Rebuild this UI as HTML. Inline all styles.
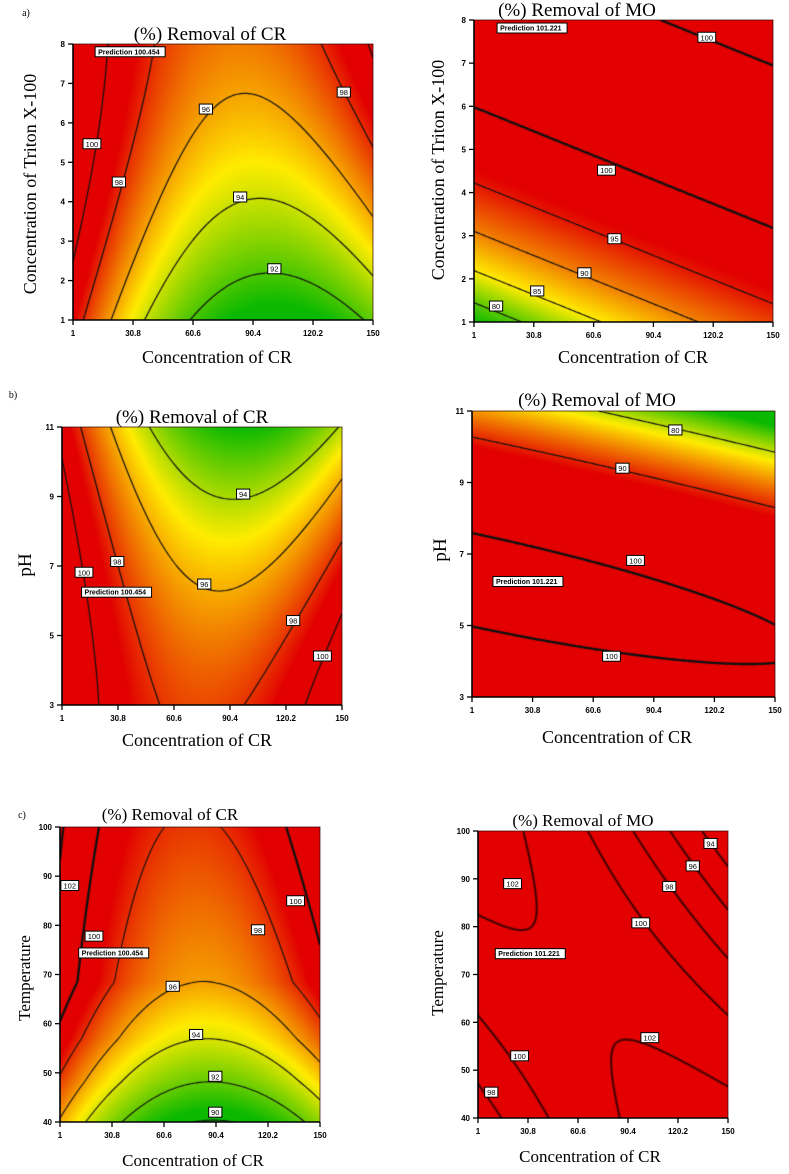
<!DOCTYPE html>
<html><head><meta charset="utf-8">
<style>
html,body{margin:0;padding:0;background:#fff;}
body{width:789px;height:1174px;position:relative;overflow:hidden;font-family:"Liberation Serif",serif;}
canvas{position:absolute;}
#overlay{position:absolute;left:0;top:0;}
</style></head>
<body>
<svg id="overlay" width="789" height="1174"></svg>
<script>
// ---------- shared axis data ----------
const xTickVals = [1, 30.8, 60.6, 90.4, 120.2, 150];
const xTickLabels = ['1', '30.8', '60.6', '90.4', '120.2', '150'];
const tritonTicks = [1, 2, 3, 4, 5, 6, 7, 8];
const pHTicks = [3, 5, 7, 9, 11];
const tempTicks = [40, 50, 60, 70, 80, 90, 100];

// ---------- panel a-left : CR vs Triton ----------
const crTritonCoef = [90.49, 18, 0.68, -0.13, 9.42, -3.3];
const crTritonLevels = [92, 94, 96, 98, 100];
const crTritonLabelX = [10.4, 23.8, 67, 84, 101, 135.5];
const crTritonLabelY = [5.47, 4.5, 6.35, 4.12, 2.3, 6.78];
const crTritonLabelText = ['100', '98', '96', '94', '92', '98'];

// ---------- panel a-right : MO vs Triton ----------
const moTritonS = [0, 0.064, 0.17, 0.30, 0.46, 0.71, 0.98, 1.25, 1.4];
const moTritonG = [77.5, 80, 85, 90, 95, 100, 101.2, 100, 99];
const moTritonLevels = [80, 85, 90, 95, 100];
const moTritonLabelX = [117, 67, 71, 56, 32.5, 12];
const moTritonLabelY = [7.6, 4.52, 2.93, 2.14, 1.72, 1.37];
const moTritonLabelText = ['100', '100', '95', '90', '85', '80'];

// ---------- panel b-left : CR vs pH ----------
const crPHCoef = [97.6, 17.7, 0.5, 0.15, -2.71, -2.91];
const crPHLevels = [94, 96, 98, 100];
const crPHLabelX = [97.4, 76.7, 30.4, 12.7, 124, 139.6];
const crPHLabelY = [9.07, 6.48, 7.13, 6.82, 5.43, 4.41];
const crPHLabelText = ['94', '96', '98', '100', '98', '100'];

// ---------- panel b-right : MO vs pH ----------
const moPHCoef = [101.2, 1.0, 0.26, 45, 0.41, 0.036];
const moPHLevels = [70, 80, 90, 100];
const moPHLabelX = [101, 75, 81.4, 69.6];
const moPHLabelY = [10.47, 9.4, 6.82, 4.14];
const moPHLabelText = ['80', '90', '100', '100'];

// ---------- panel c-left : CR vs Temperature ----------
const crTempVK = [0, 0.136, 0.282, 0.475, 1];
const crTempCV = [89.9, 92, 94, 96, 97.8];
const crTempCoef = [17, 0.59, -0.08];
const crTempLevels = [90, 92, 94, 96, 98, 100, 102];
const crTempLabelX = [6.6, 20.5, 65.6, 79, 90, 90, 114.5, 136];
const crTempLabelY = [88.1, 77.8, 67.6, 57.8, 49.3, 42, 79.1, 85];
const crTempLabelText = ['102', '100', '96', '94', '92', '90', '98', '100'];

// ---------- panel c-right : MO vs Temperature ----------
const moTempCoef = [96.8, 13.45, 10.6, -7.55, -4.6, -16.5];
const moTempLevels = [94, 96, 98, 100, 102];
const moTempLabelX = [139.6, 129, 115, 98, 21.6, 103.4, 25.8, 8.9];
const moTempLabelY = [97.4, 92.7, 88.4, 80.8, 89, 56.8, 53, 45.4];
const moTempLabelText = ['94', '96', '98', '100', '102', '102', '100', '98'];

const NS = 'http://www.w3.org/2000/svg';
const svg = document.getElementById('overlay');
function mk(tag, attrs, parent) {
  const e = document.createElementNS(NS, tag);
  for (const k in attrs) e.setAttribute(k, attrs[k]);
  (parent || svg).appendChild(e);
  return e;
}
function pwl(xs, ys, x) {
  if (x <= xs[0]) return ys[0] + (x - xs[0]) * (ys[1] - ys[0]) / (xs[1] - xs[0]);
  for (let i = 1; i < xs.length; i++) {
    if (x <= xs[i]) return ys[i - 1] + (x - xs[i - 1]) * (ys[i] - ys[i - 1]) / (xs[i] - xs[i - 1]);
  }
  const n = xs.length;
  return ys[n - 1];
}
function cmap(val, lo, mid, hi) {
  const G = [10, 185, 0], Y = [255, 236, 0], R = [226, 0, 0];
  let a, b, t;
  if (val <= lo) return G;
  if (val >= hi) return R;
  if (val < mid) { a = G; b = Y; t = (val - lo) / (mid - lo); }
  else { a = Y; b = R; t = (val - mid) / (hi - mid); }
  return [a[0] + (b[0] - a[0]) * t, a[1] + (b[1] - a[1]) * t, a[2] + (b[2] - a[2]) * t];
}

const models = {
  crTriton: (u, v) => { const c = crTritonCoef; const uc = c[2] + c[3] * v; return c[0] + c[1] * (u - uc) * (u - uc) + c[4] * v + c[5] * v * v; },
  moTriton: (u, v) => pwl(moTritonS, moTritonG, v + 0.4 * u),
  crPH: (u, v) => { const c = crPHCoef; const uc = c[2] + c[3] * v; return c[0] + c[1] * (u - uc) * (u - uc) + c[4] * v + c[5] * v * v; },
  moPH: (u, v) => { const c = moPHCoef; const s = v + c[2] * u; const s0 = c[4] + c[5] * u; return (c[0] - c[1] * u * u) - c[3] * (s - s0) * (s - s0); },
  crTemp: (u, v) => { const c = crTempCoef; const uc = c[1] + c[2] * v; return pwl(crTempVK, crTempCV, v) + c[0] * (u - uc) * (u - uc); },
  moTemp: (u, v) => { const c = moTempCoef; return c[0] + c[1] * u + c[2] * v + c[3] * u * u + c[4] * v * v + c[5] * u * v; }
};

const panels = [
  { id: 'cr-triton', model: 'crTriton', x: 73, y: 44, w: 300, h: 276, ymin: 1, ymax: 8, yTicks: tritonTicks,
    levels: crTritonLevels, lx: crTritonLabelX, ly: crTritonLabelY, lt: crTritonLabelText, cm: [91, 94.8, 98.7],
    lineColor: '#111', lineW: 1.2, thick: [],
    title: '(%) Removal of CR', tx: 210, ty: 40, tfs: 19, xl: 'Concentration of CR', xlx: 217, xly: 363, xfs: 18,
    yl: 'Concentration of Triton X-100', ylx: 36, yly: 184, yfs: 18, pred: 'Prediction  100.454', px: 12, py: 7.93, letter: 'a)', lxp: 26, lyp: 16 },
  { id: 'mo-triton', model: 'moTriton', x: 474, y: 20, w: 299, h: 302, ymin: 1, ymax: 8, yTicks: tritonTicks,
    levels: moTritonLevels, lx: moTritonLabelX, ly: moTritonLabelY, lt: moTritonLabelText, cm: [77.5, 85, 96],
    lineColor: '#111', lineW: 1.2, thick: [100],
    title: '(%) Removal of MO', tx: 577, ty: 16, tfs: 19, xl: 'Concentration of CR', xlx: 633, xly: 363, xfs: 18,
    yl: 'Concentration of Triton X-100', ylx: 444, yly: 170, yfs: 18, pred: 'Prediction  101.221', px: 12.5, py: 7.93 },
  { id: 'cr-ph', model: 'crPH', x: 62, y: 427, w: 280, h: 278, ymin: 3, ymax: 11, yTicks: pHTicks,
    levels: crPHLevels, lx: crPHLabelX, ly: crPHLabelY, lt: crPHLabelText, cm: [92, 95, 98.8],
    lineColor: '#111', lineW: 1.2, thick: [],
    title: '(%) Removal of CR', tx: 192, ty: 423, tfs: 19, xl: 'Concentration of CR', xlx: 197, xly: 746, xfs: 18,
    yl: 'pH', ylx: 31, yly: 565, yfs: 19, pred: 'Prediction  100.454', px: 11.4, py: 6.39, letter: 'b)', lxp: 13, lyp: 398 },
  { id: 'mo-ph', model: 'moPH', x: 472, y: 411, w: 303, h: 286, ymin: 3, ymax: 11, yTicks: pHTicks,
    levels: moPHLevels, lx: moPHLabelX, ly: moPHLabelY, lt: moPHLabelText, cm: [74, 82, 91.5],
    lineColor: '#111', lineW: 1.2, thick: [100],
    title: '(%) Removal of MO', tx: 597, ty: 406, tfs: 19, xl: 'Concentration of CR', xlx: 617, xly: 743, xfs: 18,
    yl: 'pH', ylx: 446, yly: 550, yfs: 19, pred: 'Prediction  101.221', px: 11.3, py: 6.37 },
  { id: 'cr-temp', model: 'crTemp', x: 60, y: 827, w: 260, h: 295, ymin: 40, ymax: 100, yTicks: tempTicks,
    levels: crTempLevels, lx: crTempLabelX, ly: crTempLabelY, lt: crTempLabelText, cm: [90.5, 94.6, 98.8],
    lineColor: '#111', lineW: 1.1, thick: [100, 102],
    title: '(%) Removal of CR', tx: 170, ty: 820, tfs: 17, xl: 'Concentration of CR', xlx: 193, xly: 1166, xfs: 17,
    yl: 'Temperature', ylx: 30, yly: 978, yfs: 17, pred: 'Prediction  100.454', px: 11.7, py: 75.4, letter: 'c)', lxp: 22, lyp: 818 },
  { id: 'mo-temp', model: 'moTemp', x: 478, y: 831, w: 250, h: 287, ymin: 40, ymax: 100, yTicks: tempTicks,
    levels: moTempLevels, lx: moTempLabelX, ly: moTempLabelY, lt: moTempLabelText, cm: [80, 86, 92],
    lineColor: 'rgba(50,0,0,0.85)', lineW: 2.2, thick: [],
    title: '(%) Removal of MO', tx: 583, ty: 826, tfs: 17, xl: 'Concentration of CR', xlx: 590, xly: 1162, xfs: 17,
    yl: 'Temperature', ylx: 443, yly: 973, yfs: 17, pred: 'Prediction  101.221', px: 11.3, py: 75.4 }
];

function drawPanel(p) {
  const f = models[p.model];
  const cv = document.createElement('canvas');
  cv.width = p.w; cv.height = p.h;
  cv.style.left = p.x + 'px'; cv.style.top = p.y + 'px';
  
  
  document.body.insertBefore(cv, svg);
  const ctx = cv.getContext('2d');
  const img = ctx.createImageData(p.w, p.h);
  for (let py = 0; py < p.h; py++) {
    for (let px = 0; px < p.w; px++) {
      const u = (px + 0.5) / p.w, v = 1 - (py + 0.5) / p.h;
      const c = cmap(f(u, v), p.cm[0], p.cm[1], p.cm[2]);
      const i = (py * p.w + px) * 4;
      img.data[i] = c[0]; img.data[i + 1] = c[1]; img.data[i + 2] = c[2]; img.data[i + 3] = 255;
    }
  }
  ctx.putImageData(img, 0, 0);
  // contours via marching squares
  const g = 2, nx = Math.ceil(p.w / g), ny = Math.ceil(p.h / g);
  const grid = [];
  for (let j = 0; j <= ny; j++) {
    const row = [];
    for (let i = 0; i <= nx; i++) {
      const X = Math.min(i * g, p.w), Y = Math.min(j * g, p.h);
      row.push(f(X / p.w, 1 - Y / p.h));
    }
    grid.push(row);
  }
  p.levels.forEach(L => {
    ctx.beginPath();
    ctx.strokeStyle = p.lineColor;
    ctx.lineWidth = p.thick.indexOf(L) >= 0 ? p.lineW + 1.2 : p.lineW;
    for (let j = 0; j < ny; j++) {
      for (let i = 0; i < nx; i++) {
        const x0 = i * g, y0 = j * g, x1 = Math.min(x0 + g, p.w), y1 = Math.min(y0 + g, p.h);
        const cs = [[x0, y0, grid[j][i]], [x1, y0, grid[j][i + 1]], [x1, y1, grid[j + 1][i + 1]], [x0, y1, grid[j + 1][i]]];
        const pts = [];
        for (let e = 0; e < 4; e++) {
          const a = cs[e], b = cs[(e + 1) % 4];
          if ((a[2] < L) !== (b[2] < L)) {
            const t = (L - a[2]) / (b[2] - a[2]);
            pts.push([a[0] + t * (b[0] - a[0]), a[1] + t * (b[1] - a[1])]);
          }
        }
        for (let k = 0; k + 1 < pts.length; k += 2) {
          ctx.moveTo(pts[k][0], pts[k][1]); ctx.lineTo(pts[k + 1][0], pts[k + 1][1]);
        }
      }
    }
    ctx.stroke();
  });

  const sx = val => p.x + p.w * (val - 1) / 149;
  const sy = val => p.y + p.h * (1 - (val - p.ymin) / (p.ymax - p.ymin));
  const grp = mk('g', {});
  
  

  const frame = mk('rect', { x: p.x, y: p.y, width: p.w, height: p.h, fill: 'none', stroke: 'rgba(40,0,0,0.7)', 'stroke-width': 1 }, grp);
  
  
  const ya = mk('line', { x1: p.x, y1: p.y, x2: p.x, y2: p.y + p.h, stroke: '#000', 'stroke-width': 1.6 }, grp);
  
  
  const xa = mk('line', { x1: p.x, y1: p.y + p.h, x2: p.x + p.w, y2: p.y + p.h, stroke: '#000', 'stroke-width': 1.6 }, grp);
  
  

  p.yTicks.forEach(t => {
    const yy = sy(t);
    const tk = mk('line', { x1: p.x - 5, y1: yy, x2: p.x, y2: yy, stroke: '#000', 'stroke-width': 1.3 }, grp);
    
    
    const tl = mk('text', { x: p.x - 8, y: yy + 3, 'text-anchor': 'end', 'font-family': 'Liberation Sans, sans-serif', 'font-size': 8, 'font-weight': 'bold' }, grp);
    tl.textContent = String(t);
    
    
  });
  xTickVals.forEach((t, i) => {
    const xx = sx(t);
    const tk = mk('line', { x1: xx, y1: p.y + p.h, x2: xx, y2: p.y + p.h + 5, stroke: '#000', 'stroke-width': 1.3 }, grp);
    
    
    const tl = mk('text', { x: xx, y: p.y + p.h + 16, 'text-anchor': 'middle', 'font-family': 'Liberation Sans, sans-serif', 'font-size': 8, 'font-weight': 'bold' }, grp);
    tl.textContent = xTickLabels[i];
    
    
  });

  p.lt.forEach((txt, i) => {
    const cx = sx(p.lx[i]), cy = sy(p.ly[i]);
    const bw = txt.length * 4.6 + 4;
    const r = mk('rect', { x: cx - bw / 2, y: cy - 5, width: bw, height: 10, fill: '#fff', stroke: '#000', 'stroke-width': 1 }, grp);
    
    
    const t = mk('text', { x: cx, y: cy + 3, 'text-anchor': 'middle', 'font-family': 'Liberation Sans, sans-serif', 'font-size': 7.5 }, grp);
    t.textContent = txt;
    
    
  });

  const pxp = sx(p.px), pyp = sy(p.py);
  const pb = mk('rect', { x: pxp, y: pyp, width: 70, height: 10, fill: '#fff', stroke: '#000', 'stroke-width': 1 }, grp);
  
  
  const pt = mk('text', { x: pxp + 3, y: pyp + 7.5, 'font-family': 'Liberation Sans, sans-serif', 'font-size': 7, 'font-weight': 'bold' }, grp);
  pt.textContent = p.pred;
  
  

  const ti = mk('text', { x: p.tx, y: p.ty, 'text-anchor': 'middle', 'font-size': p.tfs, 'font-family': 'Liberation Serif, serif' }, grp);
  ti.textContent = p.title;
  
  
  const xl = mk('text', { x: p.xlx, y: p.xly, 'text-anchor': 'middle', 'font-size': p.xfs, 'font-family': 'Liberation Serif, serif' }, grp);
  xl.textContent = p.xl;
  
  
  const yl = mk('text', { x: p.ylx, y: p.yly, 'text-anchor': 'middle', 'font-size': p.yfs, 'font-family': 'Liberation Serif, serif', transform: 'rotate(-90 ' + p.ylx + ' ' + p.yly + ')' }, grp);
  yl.textContent = p.yl;
  
  
  if (p.letter) {
    const lt = mk('text', { x: p.lxp, y: p.lyp, 'text-anchor': 'middle', 'font-size': 10, 'font-family': 'Liberation Serif, serif' }, grp);
    lt.textContent = p.letter;
    
    
  }
}
panels.forEach(drawPanel);
</script>
</body></html>
